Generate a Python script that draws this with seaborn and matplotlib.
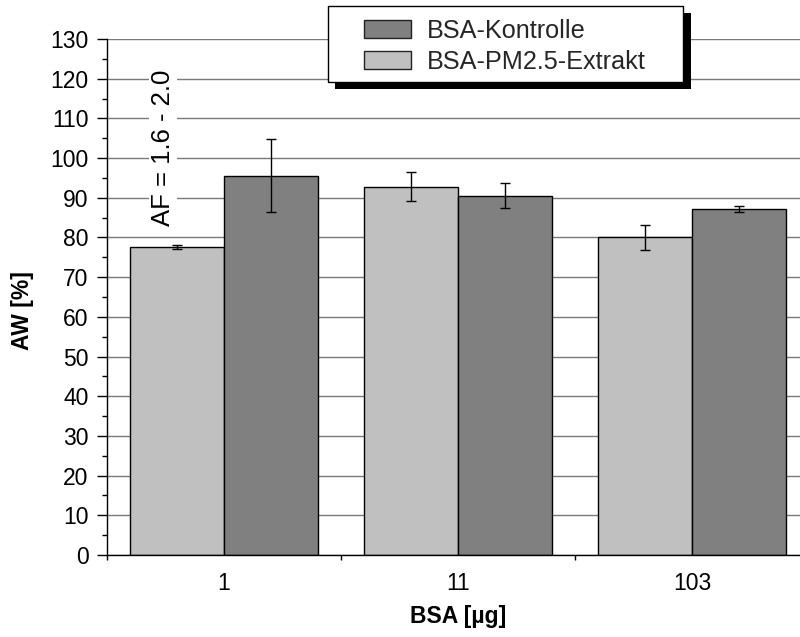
import matplotlib
matplotlib.use("Agg")
import matplotlib.pyplot as plt
from matplotlib.patches import Rectangle, Patch
from matplotlib.ticker import MultipleLocator, FixedLocator
import seaborn as sns
import pandas as pd

# ---- data ----
categories = ["1", "11", "103"]
series = ["BSA-PM2.5-Extrakt", "BSA-Kontrolle"]
extrakt_vals = [77.7, 92.8, 80.0]
extrakt_err = [0.5, 3.7, 3.2]
kontrolle_vals = [95.5, 90.5, 87.2]
kontrolle_err = [9.2, 3.2, 0.85]
colors = {"BSA-PM2.5-Extrakt": "#c0c0c0", "BSA-Kontrolle": "#808080"}
legend_order = ["BSA-Kontrolle", "BSA-PM2.5-Extrakt"]
yticks = list(range(0, 131, 10))
annotation = "AF = 1.6 - 2.0"

df = pd.DataFrame({
    "BSA": categories * 2,
    "Serie": [series[0]] * 3 + [series[1]] * 3,
    "AW": extrakt_vals + kontrolle_vals,
})
errs = {series[0]: extrakt_err, series[1]: kontrolle_err}

sns.set_theme(style="white")
plt.rcParams["font.family"] = ["Liberation Sans", "DejaVu Sans"]

W, H = 800, 637
fig = plt.figure(figsize=(8, 6.37), dpi=100)
ax = fig.add_axes([107 / W, 1 - 555 / H, (809 - 107) / W, (555 - 39) / H])

sns.barplot(data=df, x="BSA", y="AW", hue="Serie", hue_order=series,
            order=categories, palette=colors, errorbar=None, width=0.8,
            edgecolor="black", linewidth=1, legend=False, ax=ax, zorder=2)

for cont, name in zip(ax.containers, series):
    xs = [p.get_x() + p.get_width() / 2 for p in cont.patches]
    hs = [p.get_height() for p in cont.patches]
    ax.errorbar(xs, hs, yerr=errs[name], fmt="none", ecolor="black",
                elinewidth=1, capsize=3.8, capthick=1, zorder=3)

ax.set_xlim(-0.5, 2.5)
ax.set_ylim(0, 130)
ax.set_yticks(yticks)
ax.yaxis.set_minor_locator(MultipleLocator(5))
ax.xaxis.set_minor_locator(FixedLocator([-0.5, 0.5, 1.5, 2.5]))
ax.grid(axis="y", which="major", color="#7a7a7a", linewidth=1)
ax.set_axisbelow(True)

for s in ["top", "right"]:
    ax.spines[s].set_visible(False)
for s in ["left", "bottom"]:
    ax.spines[s].set_color("black")
    ax.spines[s].set_linewidth(1)

ax.tick_params(axis="y", which="major", direction="out", length=7.2, width=1,
               color="black", labelsize=16.5, pad=6, left=True)
ax.tick_params(axis="y", which="minor", direction="out", length=3.6, width=1,
               color="black", left=True)
ax.tick_params(axis="x", which="major", length=0, labelsize=16.5, pad=12)
ax.tick_params(axis="x", which="minor", direction="out", length=3.6, width=1,
               color="black", bottom=True)
for lab in ax.get_xticklabels() + ax.get_yticklabels():
    lab.set_color("black")

ax.set_xlabel("BSA [µg]", fontsize=16.5, fontweight="bold", color="black")
ax.xaxis.label.set_va("center")
ax.xaxis.set_label_coords(0.5, (555 - 617) / 516)
ax.set_ylabel("AW [%]", fontsize=16.5, fontweight="bold", color="black")
ax.yaxis.label.set(va="center", rotation_mode="anchor")
ax.yaxis.set_label_coords((23 - 107) / 702, (555 - 311) / 516)

ax.text(-0.26, 102.7, annotation, rotation=90, ha="center", va="center",
        fontsize=18.5, color="black", zorder=2.5,
        bbox=dict(facecolor="white", edgecolor="none", pad=1.5))

# legend box with hard shadow (figure level)
lx0, lx1, ly0, ly1 = 327.7, 683, 5.7, 81.7
off = 7.5
fig.patches.append(Rectangle(((lx0 + off) / W, 1 - (ly1 + off) / H),
                             (lx1 - lx0) / W, (ly1 - ly0) / H,
                             transform=fig.transFigure, facecolor="black",
                             edgecolor="none", zorder=3))
fig.patches.append(Rectangle((lx0 / W, 1 - ly1 / H), (lx1 - lx0) / W,
                             (ly1 - ly0) / H, transform=fig.transFigure,
                             facecolor="white", edgecolor="black",
                             linewidth=1, zorder=4))
handles = [Patch(facecolor=colors[n], edgecolor="#222222", linewidth=1, label=n)
           for n in legend_order]
fig.legend(handles=handles, loc="upper left",
           bbox_to_anchor=(364 / W, 1 - 19 / H), frameon=False,
           fontsize=18.2, borderpad=0, borderaxespad=0, handlelength=1.85,
           handleheight=0.7, handletextpad=0.62, labelspacing=0.26)

fig.savefig("out.png", dpi=100)
